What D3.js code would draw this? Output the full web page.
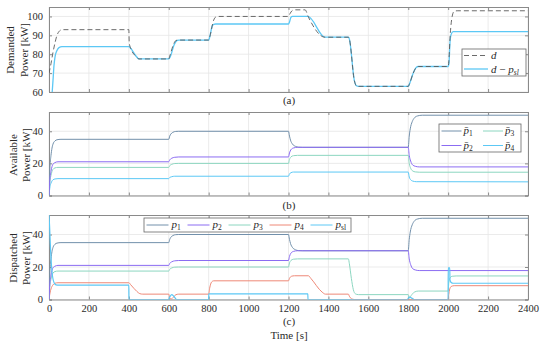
<!DOCTYPE html>
<html><head><meta charset="utf-8">
<script src="https://cdn.jsdelivr.net/npm/d3@7"></script>
<style>
body{margin:0;background:#fff;}
svg{display:block;}
svg text{font-family:"Liberation Serif",serif !important;fill:#2a2a2a;}
</style></head>
<body>
<svg id="c" width="545" height="344"></svg>
<script>
// ---------- DATA ----------
const xTicks = [0,200,400,600,800,1000,1200,1400,1600,1800,2000,2200,2400];
const yTicksA = [60,70,80,90,100];
const yTicksBC = [0,20,40];

// Panel (a): demanded power
const dData = [[0,70],[10,75],[20,81],[30,86],[40,90],[50,92],[65,93],[400,93],[402,86],[410,83],[440,78.5],[450,77.5],[600,77.5],[605,79],[625,85.5],[635,87.2],[645,87.5],[800,87.5],[805,89],[825,98],[835,99.7],[845,100],[1200,100],[1205,101],[1220,103.2],[1230,103.5],[1283,103.5],[1300,99.6],[1383,89],[1500,89],[1505,88],[1530,66],[1540,63.3],[1550,63],[1800,63],[1805,64],[1825,70],[1840,73],[1850,73.5],[2000,73.5],[2003,76],[2010,90],[2020,100],[2030,102.7],[2045,103],[2400,103]];
const dMinusPslData = [[0,20],[10,45],[15,58],[20,66],[25,74],[30,78.5],[40,82],[50,83.5],[65,84],[400,84],[410,83],[440,78.5],[450,77.5],[600,77.5],[607,78.5],[627,85],[640,87.2],[650,87.5],[800,87.5],[805,89],[818,95],[825,95.8],[835,96],[1200,96],[1205,97],[1212,99.5],[1220,100],[1297,100],[1383,89],[1500,89],[1505,88],[1530,66],[1540,63.3],[1550,63],[1800,63],[1805,64],[1825,70],[1840,73],[1850,73.5],[2000,73.5],[2004,75],[2009,86],[2015,90.5],[2025,92],[2400,92]];

// Panel (b): available power
const pbar1 = [[0,0],[5,18],[10,25],[15,29.5],[20,32],[30,34],[40,34.7],[60,35],[600,35],[605,37],[610,38.2],[620,39.3],[635,39.9],[650,40],[1200,40],[1205,37],[1210,34.5],[1220,32],[1235,30.6],[1250,30.1],[1270,30],[1800,30],[1805,37],[1810,41.5],[1820,46],[1830,48.2],[1845,49.5],[1870,50],[2400,50]];
const pbar2 = [[0,0],[5,11],[10,15],[15,18],[20,19.5],[30,20.5],[45,21],[600,21],[605,22.2],[615,23.2],[630,23.8],[650,24],[1200,24],[1205,26.5],[1212,28.5],[1225,29.6],[1245,30],[1800,30],[1805,25],[1812,21.5],[1822,19],[1835,18.2],[1855,17.8],[2400,17.8]];
const pbar3 = [[0,0],[5,9],[10,12.5],[15,15],[20,16.3],[30,17.2],[45,17.5],[600,17.5],[605,18.6],[615,19.4],[630,19.9],[650,20],[1200,20],[1205,22.5],[1212,24],[1225,24.8],[1245,25],[1800,25],[1805,20],[1812,17],[1822,15.3],[1835,14.7],[1855,14.5],[2400,14.5]];
const pbar4 = [[0,0],[5,5.5],[10,7.7],[15,9],[20,9.8],[30,10.3],[45,10.5],[600,10.5],[605,11.2],[615,11.7],[630,12],[1200,12],[1205,13.4],[1212,14.2],[1225,14.6],[1800,14.6],[1805,11.5],[1812,9.8],[1822,9],[1840,8.6],[2400,8.5]];

// Panel (c): dispatched power
const p1 = [[0,0],[5,18],[10,25],[15,29.5],[20,32],[30,34],[40,34.7],[60,35],[600,35],[605,37],[610,38.2],[620,39.3],[635,39.9],[650,40],[1200,40],[1205,37],[1210,34.5],[1220,32],[1235,30.6],[1250,30.1],[1270,30],[1800,30],[1805,37],[1810,41.5],[1820,46],[1830,48.2],[1845,49.5],[1870,50],[2400,50]];
const p2 = [[0,0],[5,11],[10,15],[15,18],[20,19.5],[30,20.5],[45,21],[600,21],[605,22.2],[615,23.2],[630,23.8],[650,24],[1200,24],[1205,26.5],[1212,28.5],[1225,29.6],[1245,30],[1800,30],[1805,25],[1812,21.5],[1822,19],[1835,18.2],[1855,17.8],[2400,17.8]];
const p3 = [[0,0],[5,9],[10,12.5],[15,15],[20,16.3],[30,17.2],[45,17.5],[600,17.5],[605,18.6],[615,19.4],[630,19.9],[650,20],[1200,20],[1205,22.5],[1212,24],[1225,24.8],[1245,25],[1500,25],[1505,22],[1515,13],[1525,6],[1535,3.5],[1550,3],[1800,3],[1806,1],[1815,2.5],[1830,4.5],[1850,5.2],[2000,5.2],[2003,10],[2010,13.5],[2020,14.3],[2040,14.5],[2400,14.5]];
const p4 = [[0,0],[5,4],[10,6.5],[20,9],[30,10],[45,10.3],[400,10.3],[410,9],[440,5],[455,3.6],[470,3.3],[600,3.3],[605,1],[612,0.2],[620,1],[635,2.9],[650,3.3],[800,3.3],[805,7],[815,10.8],[825,11.5],[1200,11.5],[1205,13],[1215,14.3],[1230,14.6],[1300,14.6],[1312,13],[1368,4.6],[1385,3.3],[1500,3.3],[1505,2],[1515,0.5],[1530,0],[2000,0],[2003,3],[2008,6.5],[2015,8],[2030,8.5],[2400,8.5]];
const psl = [[0,52],[3,45],[8,30],[13,20],[18,14],[25,10.5],[35,9],[50,8.8],[400,8.8],[400.5,0],[600,0],[605,1.5],[615,3],[625,2],[640,0],[800,0],[800.5,3.5],[1297,3.5],[1297.5,0],[1795,0],[1805,1.5],[1815,1],[1830,0],[2000,0],[2000.5,19.5],[2008,19.5],[2009,12],[2015,10.5],[2025,10],[2400,10]];

// ---------- STYLE ----------
const C = {p1:"#7290ab", p2:"#8b6cf2", p3:"#8cd6c0", p4:"#ee8877", psl:"#5cc8f5", d:"#5a5a5a"};
const X0 = 49, X1 = 528;
const svg = d3.select("#c");
const x = d3.scaleLinear().domain([0,2400]).range([X0,X1]);

function panel(id, top, bottom, domain, yTicks, showX){
  const y = d3.scaleLinear().domain(domain).range([bottom, top]);
  const g = svg.append("g");
  g.append("clipPath").attr("id","clip"+id).append("rect")
    .attr("x",X0).attr("y",top).attr("width",X1-X0).attr("height",bottom-top);
  g.selectAll(".gx").data(xTicks).join("line")
    .attr("x1",d=>x(d)).attr("x2",d=>x(d)).attr("y1",top).attr("y2",bottom)
    .attr("stroke","#e6e6e6").attr("stroke-width",0.8);
  g.selectAll(".gy").data(yTicks).join("line")
    .attr("x1",X0).attr("x2",X1).attr("y1",d=>y(d)).attr("y2",d=>y(d))
    .attr("stroke","#e6e6e6").attr("stroke-width",0.8);
  const axL = g.append("g").attr("transform",`translate(${X0},0)`)
    .call(d3.axisLeft(y).tickValues(yTicks).tickSize(-3).tickPadding(6));
  const axR = g.append("g").attr("transform",`translate(${X1},0)`)
    .call(d3.axisRight(y).tickValues(yTicks).tickSize(-3).tickFormat(""));
  const axB = g.append("g").attr("transform",`translate(0,${bottom})`)
    .call(d3.axisBottom(x).tickValues(xTicks).tickSize(-3).tickPadding(5).tickFormat(showX?d3.format("d"):""));
  const axT = g.append("g").attr("transform",`translate(0,${top})`)
    .call(d3.axisTop(x).tickValues(xTicks).tickSize(-3).tickFormat(""));
  [axL,axR,axB,axT].forEach(a=>{
    a.select(".domain").attr("stroke","#8a8a8a");
    a.selectAll(".tick line").attr("stroke","#8a8a8a");
    a.selectAll("text").attr("font-size",10.5).attr("fill","#2a2a2a");
  });
  return {g, y, id};
}

function drawLine(p, data, color, opts={}){
  const line = d3.line().x(d=>x(d[0])).y(d=>p.y(d[1])).curve(d3.curveMonotoneX);
  p.g.append("path").datum(data).attr("d",line)
    .attr("fill","none").attr("stroke",color).attr("stroke-width",opts.w||1)
    .attr("stroke-dasharray",opts.dash||null)
    .attr("clip-path",`url(#clip${p.id})`);
}

function ylabel(lines, xs, yc){
  lines.forEach((t,i)=>{
    svg.append("text").attr("transform",`translate(${xs[i]},${yc}) rotate(-90)`)
      .attr("text-anchor","middle").attr("dominant-baseline","central")
      .attr("font-size",11).text(t);
  });
}

// ---------- PANEL A ----------
const pa = panel("a", 7, 92, [60,105], yTicksA, false);
drawLine(pa, dMinusPslData, C.psl, {w:1.3});
drawLine(pa, dData, C.d, {w:0.9, dash:"5,3"});
ylabel(["Demanded","Power [kW]"], [10,24], 50);
svg.append("text").attr("x",289).attr("y",104).attr("text-anchor","middle").attr("font-size",11).text("(a)");

{
  const lg = svg.append("g");
  lg.append("rect").attr("x",462).attr("y",49).attr("width",64).attr("height",27).attr("fill","#fff").attr("stroke","#666").attr("stroke-width",0.8);
  lg.append("line").attr("x1",464).attr("x2",488).attr("y1",55.5).attr("y2",55.5).attr("stroke",C.d).attr("stroke-width",0.9).attr("stroke-dasharray","5,3");
  lg.append("line").attr("x1",464).attr("x2",488).attr("y1",69).attr("y2",69).attr("stroke",C.psl).attr("stroke-width",1.3);
  lg.append("text").attr("x",491).attr("y",59).attr("font-size",11).attr("font-style","italic").text("d");
  const t2 = lg.append("text").attr("x",491).attr("y",72.5).attr("font-size",11).attr("font-style","italic");
  t2.append("tspan").text("d");
  t2.append("tspan").attr("font-style","normal").text(" − ");
  t2.append("tspan").text("p");
  t2.append("tspan").attr("font-size",7.5).attr("dy",2).text("sl");
}

// ---------- PANEL B ----------
const pb = panel("b", 112, 195.5, [0,52], yTicksBC, false);
drawLine(pb, pbar4, C.psl);
drawLine(pb, pbar3, C.p3);
drawLine(pb, pbar1, C.p1);
drawLine(pb, pbar2, C.p2);
ylabel(["Available","Power [kW]"], [13,26], 155);
svg.append("text").attr("x",289).attr("y",209).attr("text-anchor","middle").attr("font-size",11).text("(b)");

function sub(txtSel, base, subs, bar){
  txtSel.append("tspan").attr("font-style","italic").text(bar? base+"\u0304" : base);
  txtSel.append("tspan").attr("font-size",7.5).attr("dy",2).text(subs);
}
{
  const lg = svg.append("g");
  lg.append("rect").attr("x",439).attr("y",124).attr("width",82).attr("height",28).attr("fill","#fff").attr("stroke","#666").attr("stroke-width",0.8);
  const items = [[C.p1,"1",441.5,131],[C.p3,"3",483,131],[C.p2,"2",441.5,145.5],[C.psl,"4",483,145.5]];
  items.forEach(([col,s,lx,ly])=>{
    lg.append("line").attr("x1",lx).attr("x2",lx+20).attr("y1",ly).attr("y2",ly).attr("stroke",col);
    sub(lg.append("text").attr("x",lx+22).attr("y",ly+3).attr("font-size",11), "p", s, true);
  });
}

// ---------- PANEL C ----------
const pc = panel("c", 215, 299.5, [0,52], yTicksBC, true);
drawLine(pc, p4, C.p4);
drawLine(pc, p3, C.p3);
drawLine(pc, p1, C.p1);
drawLine(pc, p2, C.p2);
drawLine(pc, psl, C.psl, {w:1.2});
ylabel(["Dispatched","Power [kW]"], [13,26], 258);
svg.append("text").attr("x",289).attr("y",325).attr("text-anchor","middle").attr("font-size",11).text("(c)");
svg.append("text").attr("x",289).attr("y",339).attr("text-anchor","middle").attr("font-size",11).text("Time [s]");
{
  const lg = svg.append("g");
  lg.append("rect").attr("x",144).attr("y",218).attr("width",207).attr("height",14).attr("fill","#fff").attr("stroke","#666").attr("stroke-width",0.8);
  const items = [[C.p1,"1"],[C.p2,"2"],[C.p3,"3"],[C.p4,"4"],[C.psl,"sl"]];
  items.forEach(([col,s],i)=>{
    const lx = 146.5 + i*41;
    lg.append("line").attr("x1",lx).attr("x2",lx+22).attr("y1",225).attr("y2",225).attr("stroke",col);
    sub(lg.append("text").attr("x",lx+25).attr("y",228).attr("font-size",11), "p", s, false);
  });
}
</script>
</body></html>
